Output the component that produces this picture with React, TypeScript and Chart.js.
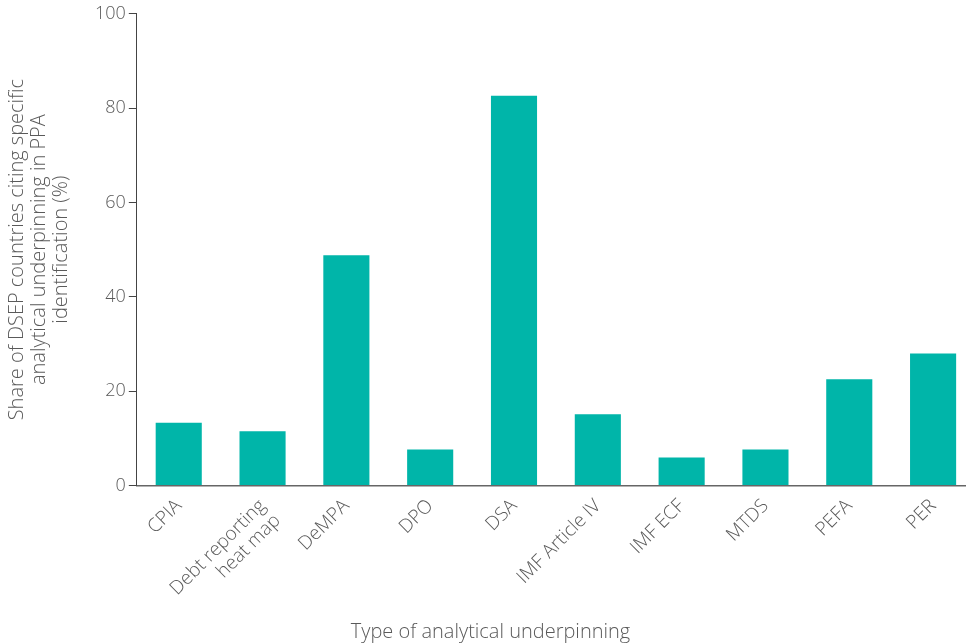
import React, { useEffect, useRef } from "react";
import { Chart, registerables } from "chart.js";

Chart.register(...registerables);

const categories: (string | string[])[] = [
  "CPIA",
  ["Debt reporting", "heat map"],
  "DeMPA",
  "DPO",
  "DSA",
  "IMF Article IV",
  "IMF ECF",
  "MTDS",
  "PEFA",
  "PER",
];
const shares = [13.3, 11.5, 48.8, 7.6, 82.6, 15.1, 5.9, 7.6, 22.5, 28.0];
const yTitle = [
  "Share of DSEP countries citing specific",
  "analytical underpinning in PPA",
  "identification (%)",
];
const xTitle = "Type of analytical underpinning";

const FONT = "'Open Sans', Lato, sans-serif";
const TEXT = "#5a5a5a";

export default function App() {
  const ref = useRef<HTMLCanvasElement | null>(null);
  useEffect(() => {
    if (!ref.current) return;
    const chart = new Chart(ref.current, {
      type: "bar",
      data: {
        labels: categories,
        datasets: [
          {
            data: shares,
            backgroundColor: "#00b5a9",
            barPercentage: 0.55,
            categoryPercentage: 1,
          },
        ],
      },
      options: {
        animation: false,
        responsive: true,
        maintainAspectRatio: false,
        layout: { padding: { top: 4, right: 10, left: 6, bottom: 0 } },
        plugins: {
          legend: { display: false },
          tooltip: { enabled: false },
          title: {
            display: true,
            position: "bottom",
            text: xTitle,
            color: TEXT,
            font: { family: FONT, size: 20, weight: "300" },
            padding: { top: 4, bottom: 0 },
          },
        },
        scales: {
          x: {
            grid: { display: false },
            border: { color: "#666", width: 1.5 },
            ticks: {
              color: TEXT,
              font: { family: FONT, size: 19, weight: "300", lineHeight: 1.1 },
              minRotation: 45,
              maxRotation: 45,
              autoSkip: false,
              padding: 2,
            },
          },
          y: {
            min: 0,
            max: 100,
            ticks: {
              stepSize: 20,
              color: TEXT,
              font: { family: FONT, size: 18, weight: "300" },
              padding: 3,
            },
            grid: {
              drawOnChartArea: false,
              drawTicks: true,
              tickLength: 8,
              color: "#444",
            },
            border: { color: "#444", width: 1 },
            title: {
              display: true,
              text: yTitle,
              color: TEXT,
              font: { family: FONT, size: 20, weight: "300", lineHeight: 1.1 },
              padding: { top: 0, bottom: 20 },
            },
          },
        },
      },
    });
    return () => chart.destroy();
  }, []);
  return (
    <div
      style={{
        position: "fixed",
        left: 0,
        top: 0,
        width: 966,
        height: 644,
        overflow: "hidden",
        background: "#fff",
      }}
    >
      <div style={{ width: 985, height: 644, position: "relative" }}>
        <canvas ref={ref} />
      </div>
    </div>
  );
}
